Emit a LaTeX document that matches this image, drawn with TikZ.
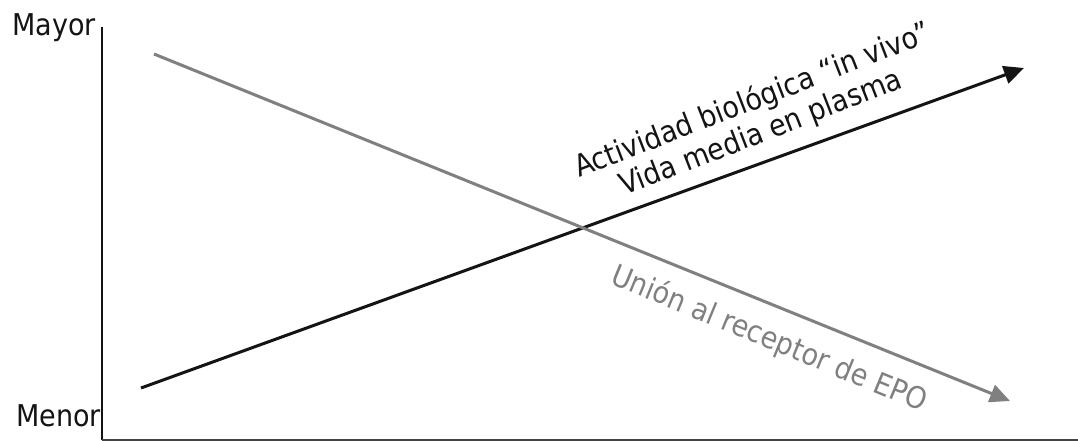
\documentclass[tikz,border=0pt]{standalone}
\usepackage{fontspec}
\setmainfont{DejaVu Sans Condensed}
\usetikzlibrary{arrows.meta}
\definecolor{curvegray}{RGB}{128,128,128}
\definecolor{inkblack}{RGB}{20,20,20}
\tikzset{
  axisline/.style={line width=2.5pt, draw=inkblack},
  trendblack/.style={line width=3pt, draw=inkblack, -{Triangle[length=20pt,width=18pt]}},
  trendgray/.style={line width=3pt, draw=curvegray, -{Triangle[length=20pt,width=18pt]}},
  axislabel/.style={font=\fontsize{30}{36}\selectfont, text=inkblack, inner sep=0pt},
  curvelabel/.style={font=\fontsize{30}{36}\selectfont, inner sep=0pt},
}
\begin{document}
\begin{tikzpicture}[x=1pt,y=-1pt]
  \useasboundingbox (0,0) rectangle (1078,441);
  \fill[white] (0,0) rectangle (1078,441);

  % axes
  \coordinate (ytop) at (102,27);
  \coordinate (origin) at (102,439.5);
  \coordinate (xend) at (1078,439.5);
  \draw[axisline] (ytop) -- (origin);
  \draw[line width=2pt, draw=inkblack!80] (origin) -- (xend);

  \node[axislabel, anchor=base east] (mayor) at (96,36) {Mayor};
  \node[axislabel, anchor=base east] (menor) at (101,426) {Menor};

  % rising trend
  \coordinate (bstart) at (141,388);
  \coordinate (bend) at (1024,68);
  \draw[trendblack] (bstart) -- (bend);
  \node[curvelabel, text=inkblack, rotate=21.2, anchor=base west] (act) at (579,178) {Actividad biológica “in vivo”};
  \node[curvelabel, text=inkblack, rotate=21.2, anchor=base west] (vida) at (624,196) {Vida media en plasma};

  % falling trend
  \coordinate (gstart) at (154,54);
  \coordinate (gend) at (1010,401);
  \draw[trendgray] (gstart) -- (gend);
  \node[curvelabel, text=curvegray, rotate=-22.4, anchor=base west] (union) at (609,283) {Unión al receptor de EPO};
\end{tikzpicture}
\end{document}
